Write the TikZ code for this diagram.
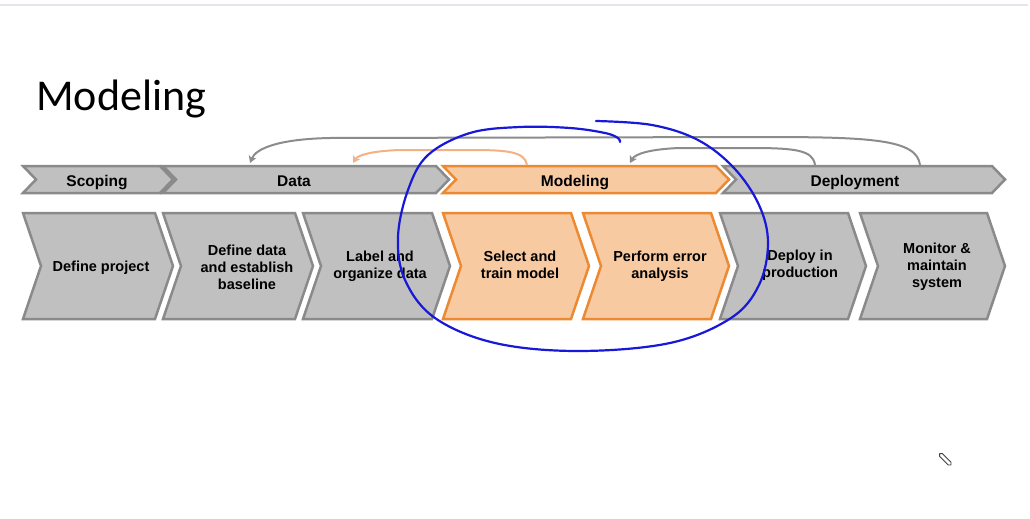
\documentclass[tikz,border=0pt]{standalone}
\usepackage{fontspec}
\setmainfont{Liberation Sans}
\newfontfamily\titlefont{Carlito}
\usetikzlibrary{arrows.meta}
\definecolor{grayfill}{HTML}{C0C0C0}
\definecolor{grayline}{HTML}{8A8A8A}
\definecolor{orfill}{HTML}{F8CAA2}
\definecolor{orline}{HTML}{EC8A34}
\definecolor{orarc}{HTML}{F4B183}
\definecolor{arcgray}{HTML}{8C8C8C}
\definecolor{penblue}{HTML}{1818D8}
\definecolor{rulecol}{HTML}{E2E5EC}
% #1 left x, #2 tip x, #3 top y, #4 bottom y, #5 depth, #6 style
\newcommand\chevshape[6]{%
  \draw[#6] (#1,#3) -- ({#2-#5},#3) -- (#2,{(#3+#4)/2}) -- ({#2-#5},#4) -- (#1,#4) -- ({#1+#5},{(#3+#4)/2}) -- cycle;}
\tikzset{
  graybox/.style={fill=grayfill,draw=grayline,line width=2.5pt,line join=miter},
  orbox/.style={fill=orfill,draw=orline,line width=2.5pt,line join=miter},
  lbl/.style={font=\bfseries\fontsize{14.5}{17}\selectfont,align=center,text=black,inner sep=0pt},
  toplbl/.style={font=\bfseries\fontsize{15.5}{18}\selectfont,anchor=base,text=black,inner sep=0pt},
  grayarc/.style={draw=arcgray,line width=2pt,-{Stealth[length=7pt,width=8pt,inset=2pt]}},
  orangearc/.style={draw=orarc,line width=2pt,-{Stealth[length=7pt,width=8pt,inset=2pt]}},
}
\begin{document}
\begin{tikzpicture}[x=1pt,y=-1pt]
\useasboundingbox (0,0) rectangle (1030,519);
\fill[white] (0,0) rectangle (1030,519);
\draw[rulecol,line width=1.5pt] (0,5) -- (1028,5);
\node[anchor=base west,inner sep=0pt,font=\titlefont\fontsize{44}{50}\selectfont] (title) at (36,110) {Modeling};

% top band
\chevshape{23}{173}{166}{193}{13}{graybox}
\chevshape{163}{449}{166}{193}{13}{graybox}
\chevshape{443}{729}{166}{193}{13}{orbox}
\chevshape{723}{1005}{166}{193}{13}{graybox}
\node[toplbl] (scoping) at (97,186.5) {Scoping};
\node[toplbl] (data) at (294,186.5) {Data};
\node[toplbl] (modeling) at (575,186.5) {Modeling};
\node[toplbl] (deployment) at (855,186.5) {Deployment};

% lower chevrons
\chevshape{23}{173}{213}{319}{18}{graybox}
\chevshape{163}{313}{213}{319}{18}{graybox}
\chevshape{303}{450}{213}{319}{18}{graybox}
\chevshape{443}{589}{213}{319}{18}{orbox}
\chevshape{583}{729}{213}{319}{18}{orbox}
\chevshape{720}{866}{213}{319}{18}{graybox}
\chevshape{860}{1005}{213}{319}{18}{graybox}
\node[lbl] (s1) at (101,267.5) {Define project};
\node[lbl] (s2) at (247,267) {Define data\\and establish\\baseline};
\node[lbl] (s3) at (380,266) {Label and\\organize data};
\node[lbl] (s4) at (520,264.5) {Select and\\train model};
\node[lbl] (s5) at (660,266.5) {Perform error\\analysis};
\node[lbl] (s6) at (800,265.5) {Deploy in\\production};
\node[lbl] (s7) at (937,267) {Monitor \&\\maintain\\system};

% connector anchor points
\coordinate (depA) at (920,165);
\coordinate (depB) at (815,165);
\coordinate (modA) at (527,165);
\coordinate (dataIn) at (250,163);
\coordinate (dataIn2) at (353,163);
\coordinate (modIn) at (630,163);

\draw[grayarc] (depA) .. controls (917,139) and (870,137) .. (760,137) -- (330,138) .. controls (280,139) and (256,148) .. (dataIn);
\draw[grayarc] (depB) .. controls (813,150) and (795,148) .. (750,148) -- (680,148) .. controls (650,149) and (635,154) .. (modIn);
\draw[orangearc] (modA) .. controls (525,151) and (505,150) .. (470,150) -- (400,150) .. controls (372,151) and (358,155) .. (dataIn2);

% hand-drawn loop
\draw[penblue,line width=2.2pt,line cap=round,line join=round] plot[smooth,tension=0.6] coordinates {
 (596,121) (652,125) (698,140) (734,168) (759,205) (768,243) (759,285) (731,318) (670,343) (578,351)
 (495,343) (435,318) (405,280) (398,237) (408,190) (428,155) (470,133) (520,127) (570,128) (605,133) (618,138) (620,142)};

% pencil icon
\begin{scope}[shift={(946,460)},rotate=-45]
\draw[line width=0.9pt,draw=black!75,line join=round] (-7,-2) -- (5,-2) -- (7,0) -- (5,2) -- (-7,2) -- (-9,0) -- cycle;
\end{scope}
\end{tikzpicture}
\end{document}
